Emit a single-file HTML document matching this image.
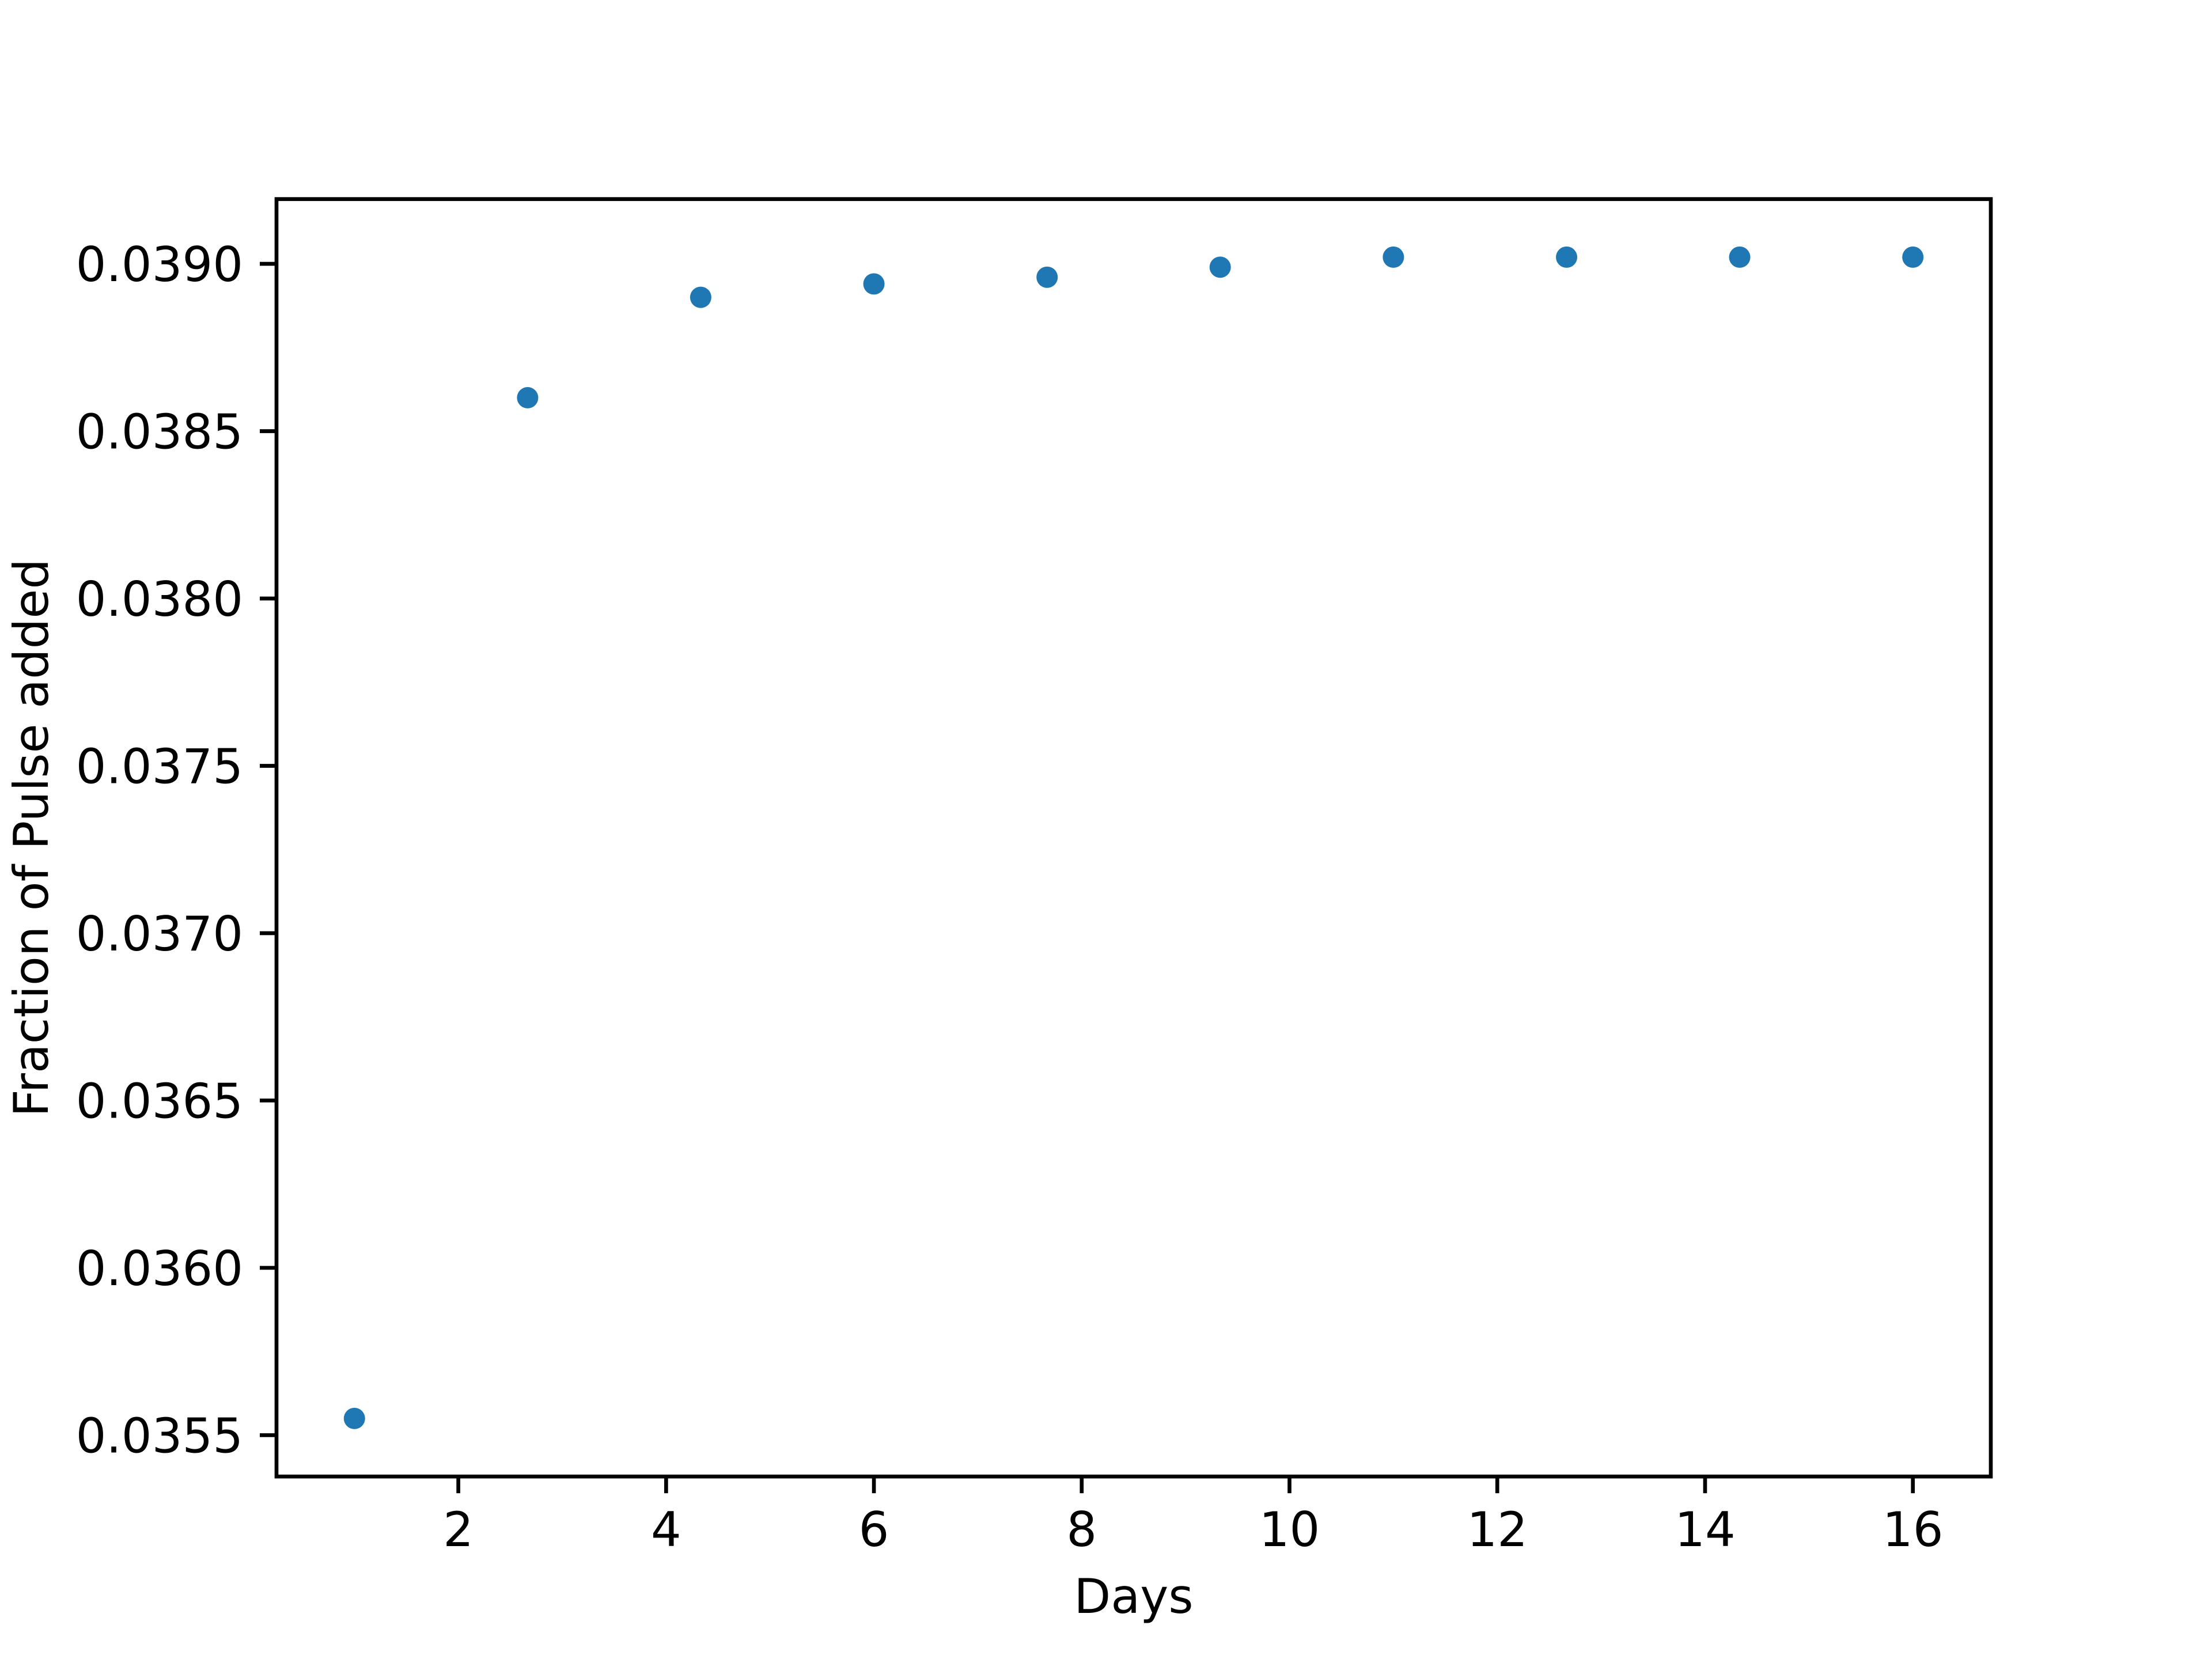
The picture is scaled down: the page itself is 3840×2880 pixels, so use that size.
<!DOCTYPE html>
<html><head><meta charset="utf-8"><style>
html,body{margin:0;padding:0;background:#fff;}
svg{display:block;font-family:"DejaVu Sans","Liberation Sans",sans-serif;}
</style></head><body>
<svg id="chart" width="3840" height="2880" viewBox="0 0 3840 2880" xmlns="http://www.w3.org/2000/svg">
<rect x="0" y="0" width="3840" height="2880" fill="#fff"/>
<g id="marks"></g>
<g id="axes"></g>
</svg>
<script>
const days = [1, 2.667, 4.333, 6, 7.667, 9.333, 11, 12.667, 14.333, 16];
const fraction = [0.03555, 0.03860, 0.03890, 0.03894, 0.03896, 0.03899, 0.03902, 0.03902, 0.03902, 0.03902];
const xTicks = [2, 4, 6, 8, 10, 12, 14, 16];
const yTicks = [0.0355, 0.0360, 0.0365, 0.0370, 0.0375, 0.0380, 0.0385, 0.0390];
const yTickLabels = ["0.0355","0.0360","0.0365","0.0370","0.0375","0.0380","0.0385","0.0390"];

const L=480,R=3456,T=345.6,B=2563.2;
const xmin0=Math.min(...days),xmax0=Math.max(...days);
const ymin0=Math.min(...fraction),ymax0=Math.max(...fraction);
const xm=(xmax0-xmin0)*0.05, ym=(ymax0-ymin0)*0.05;
const xlo=xmin0-xm,xhi=xmax0+xm,ylo=ymin0-ym,yhi=ymax0+ym;
const sx=v=>L+(v-xlo)/(xhi-xlo)*(R-L);
const sy=v=>B-(v-ylo)/(yhi-ylo)*(B-T);
const NS="http://www.w3.org/2000/svg";
function mk(tag,attrs,parent){const e=document.createElementNS(NS,tag);for(const k in attrs)e.setAttribute(k,attrs[k]);parent.appendChild(e);return e;}
const marks=document.getElementById('marks'), axes=document.getElementById('axes');
days.forEach((d,i)=>{
  const c=mk('circle',{cx:sx(d),cy:sy(fraction[i]),r:18.5,fill:'#1f77b4'},marks);
  
  
});
const frame=mk('rect',{x:L,y:T,width:R-L,height:B-T,fill:'none',stroke:'#000','stroke-width':6.67},axes);


xTicks.forEach(t=>{
  const x=sx(t);
  const ln=mk('line',{x1:x,x2:x,y1:B,y2:B+29,stroke:'#000','stroke-width':6.67},axes);
  
  
  const tx=mk('text',{x:x,y:B+58+63,'text-anchor':'middle','font-size':83,fill:'#000'},axes);
  
  
  tx.textContent=String(t);
});
yTicks.forEach((t,i)=>{
  const y=sy(t);
  const ln=mk('line',{x1:L-29,x2:L,y1:y,y2:y,stroke:'#000','stroke-width':6.67},axes);
  
  
  const tx=mk('text',{x:L-58,y:y+30,'text-anchor':'end','font-size':83,fill:'#000'},axes);
  
  
  tx.textContent=yTickLabels[i];
});
const xl=mk('text',{x:(L+R)/2,y:2800,'text-anchor':'middle','font-size':83,fill:'#000'},axes);


xl.textContent='Days';
const yc=(T+B)/2;
const yl=mk('text',{x:0,y:0,'text-anchor':'middle','font-size':83,fill:'#000',transform:'translate(83,'+yc+') rotate(-90)'},axes);


yl.textContent='Fraction of Pulse added';
</script>
</body></html>
